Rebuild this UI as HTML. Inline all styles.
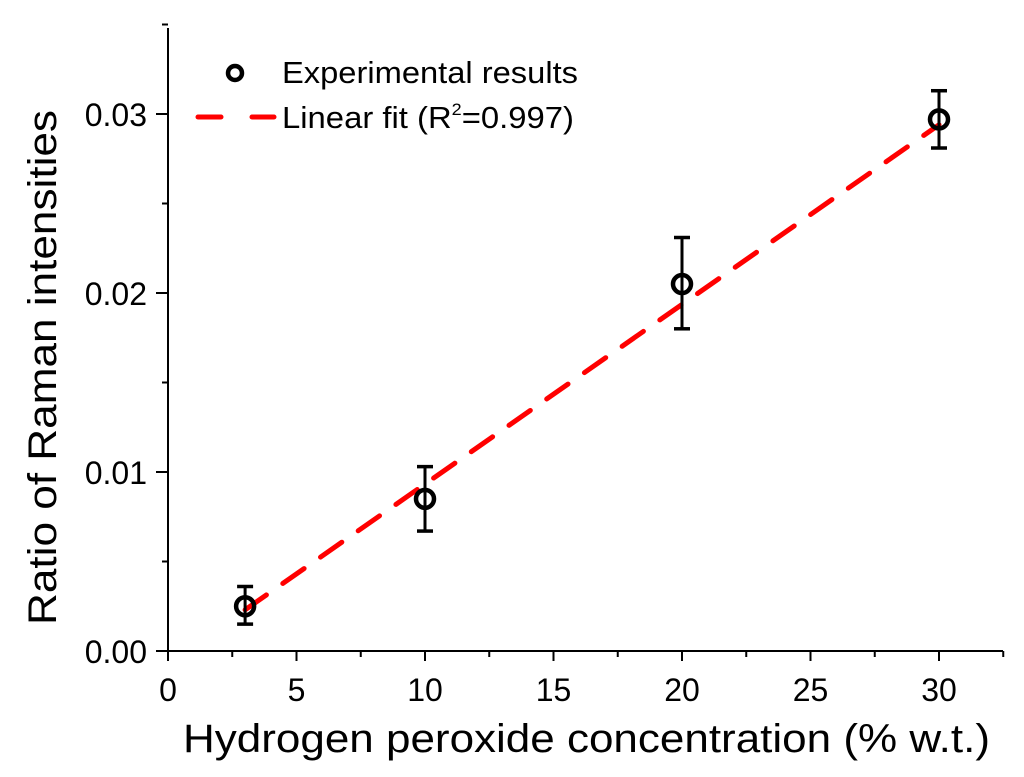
<!DOCTYPE html>
<html><head><meta charset="utf-8"><style>
html,body{margin:0;padding:0;background:#fff;}
svg{display:block;font-family:"Liberation Sans",Arial,sans-serif;}
</style></head><body>
<svg id="chart" width="1024" height="777" viewBox="0 0 1024 777"></svg>
<script>
const concentrations=[3,10,20,30];
const ratios=[0.0025,0.0085,0.0205,0.0297];
const errLow=[0.0015,0.0067,0.0180,0.0281];
const errHigh=[0.0036,0.0103,0.0231,0.0313];
const fitX=[3,30];
const fitY=[0.0023,0.0294];
const xTicks=[0,5,10,15,20,25,30];
const yTicks=[0,0.01,0.02,0.03];
const yTickLabels=["0.00","0.01","0.02","0.03"];

const NS="http://www.w3.org/2000/svg";
const svg=document.getElementById('chart');
const X0=168,Y0=651,XR=1003,YT=28;
const xs=v=>X0+v*25.7;
const ys=v=>Y0-v*17900;
function el(tag,attrs,parent){const e=document.createElementNS(NS,tag);for(const k in attrs)e.setAttribute(k,attrs[k]);(parent||svg).appendChild(e);return e;}

let a=el('line',{x1:X0,y1:Y0,x2:XR,y2:Y0,stroke:'#000','stroke-width':2});


a=el('line',{x1:X0,y1:Y0,x2:X0,y2:YT,stroke:'#000','stroke-width':2});



for(let v=0;v<=32.5;v+=2.5){const major=v%5===0;const t=el('line',{x1:xs(v),y1:Y0,x2:xs(v),y2:Y0+(major?10:6),stroke:'#000','stroke-width':2});

}
xTicks.forEach(v=>{const t=el('text',{x:xs(v),y:Y0+50,'text-anchor':'middle','font-size':32});t.textContent=v;

});
for(let i=0;i<=7;i++){const v=i*0.005;const major=i%2===0;const t=el('line',{x1:X0,y1:ys(v),x2:X0-(major?12:6),y2:ys(v),stroke:'#000','stroke-width':2});

}
yTicks.forEach((v,i)=>{const t=el('text',{x:X0-21,y:ys(v)+12,'text-anchor':'end','font-size':32});t.textContent=yTickLabels[i];

});

let t=el('text',{x:183,y:752,'font-size':40,textLength:807,lengthAdjust:'spacingAndGlyphs'});t.textContent='Hydrogen peroxide concentration (% w.t.)';


t=el('text',{x:0,y:0,'font-size':40,textLength:515,lengthAdjust:'spacingAndGlyphs',transform:'translate(56,625) rotate(-90)'});t.textContent='Ratio of Raman intensities';



const fit=el('line',{x1:xs(fitX[0]),y1:ys(fitY[0]),x2:xs(fitX[1]),y2:ys(fitY[1]),stroke:'#ff0000','stroke-width':5,'stroke-dasharray':'26 20','stroke-linecap':'round'});



concentrations.forEach((c,i)=>{
 const g=el('g',{});
 
 
 const x=xs(c);
 el('line',{x1:x,y1:ys(errLow[i]),x2:x,y2:ys(errHigh[i]),stroke:'#000','stroke-width':3},g);
 el('line',{x1:x-8,y1:ys(errLow[i]),x2:x+8,y2:ys(errLow[i]),stroke:'#000','stroke-width':3.5},g);
 el('line',{x1:x-8,y1:ys(errHigh[i]),x2:x+8,y2:ys(errHigh[i]),stroke:'#000','stroke-width':3.5},g);
 el('circle',{cx:x,cy:ys(ratios[i]),r:9,fill:'none',stroke:'#000','stroke-width':4.5},g);
});

const lg=el('g',{});


el('circle',{cx:235,cy:73,r:7,fill:'none',stroke:'#000','stroke-width':4.5},lg);
t=el('text',{x:282,y:83,'font-size':31,textLength:296,lengthAdjust:'spacingAndGlyphs'},lg);t.textContent='Experimental results';


el('line',{x1:198,y1:117,x2:221,y2:117,stroke:'#ff0000','stroke-width':5,'stroke-linecap':'round'},lg);
el('line',{x1:252,y1:117,x2:274,y2:117,stroke:'#ff0000','stroke-width':5,'stroke-linecap':'round'},lg);
t=el('text',{x:282,y:128,'font-size':31,textLength:292,lengthAdjust:'spacingAndGlyphs'},lg);
t.innerHTML='Linear fit (R<tspan dy="-13" font-size="17">2</tspan><tspan dy="13">=0.997)</tspan>';


</script>
</body></html>
